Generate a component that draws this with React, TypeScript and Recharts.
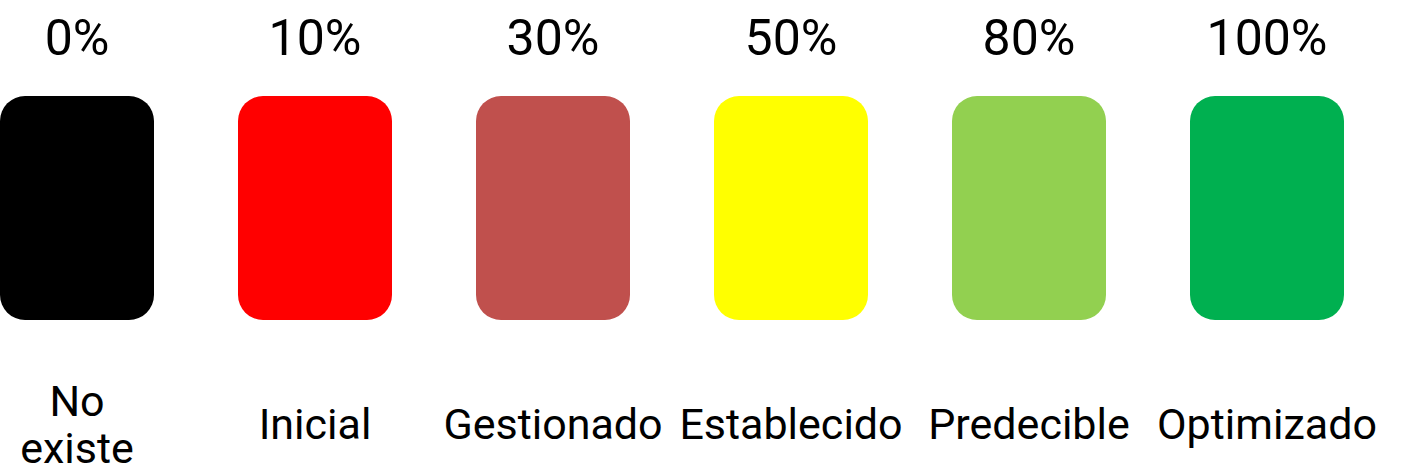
import React from 'react';
import { BarChart, Bar, XAxis, YAxis, Cell, LabelList, Text } from 'recharts';

// maturity levels, left to right
const levels = ['No existe', 'Inicial', 'Gestionado', 'Establecido', 'Predecible', 'Optimizado'];
const percents = [0, 10, 30, 50, 80, 100];
// every level is drawn as one full block
const blocks = [1, 1, 1, 1, 1, 1];
const colors = ['#000000', '#FF0000', '#C0504D', '#FFFF00', '#92D050', '#00B050'];

const data = levels.map((level, i) => ({ level, percent: percents[i], block: blocks[i] }));

// string sizes so that Text can measure the words when wrapping
const labelFont = { fontSize: '43px', fontFamily: 'Roboto' };

const LevelTick = (props: any) => {
  const { x, y, payload } = props;
  return (
    <Text
      x={x}
      y={y}
      width={160}
      textAnchor="middle"
      verticalAnchor="middle"
      lineHeight="1.1em"
      style={labelFont}
      fill="#000"
    >
      {payload.value}
    </Text>
  );
};

const App = () => {
  return (
    <div style={{ width: 1405, height: 474, position: 'relative', overflow: 'hidden', background: '#fff' }}>
      <style>{'body{margin:0;}'}</style>
      <div style={{ position: 'absolute', left: -42, top: 0 }}>
        <BarChart width={1428} height={474} data={data} margin={{ top: 96, right: 0, bottom: 0, left: 0 }}>
          <XAxis
            dataKey="level"
            interval={0}
            tickLine={false}
            axisLine={false}
            tickSize={0}
            tickMargin={104}
            height={154}
            tick={LevelTick}
          />
          <YAxis hide domain={[0, 1]} />
          <Bar dataKey="block" barSize={154} radius={25} isAnimationActive={false}>
            {data.map((d, i) => (
              <Cell key={d.level} fill={colors[i]} />
            ))}
            <LabelList
              dataKey="percent"
              position="top"
              offset={41}
              formatter={(v: any) => `${v}%`}
              fontSize={50}
              fontFamily="Roboto"
              fill="#000"
            />
          </Bar>
        </BarChart>
      </div>
    </div>
  );
};

export default App;
